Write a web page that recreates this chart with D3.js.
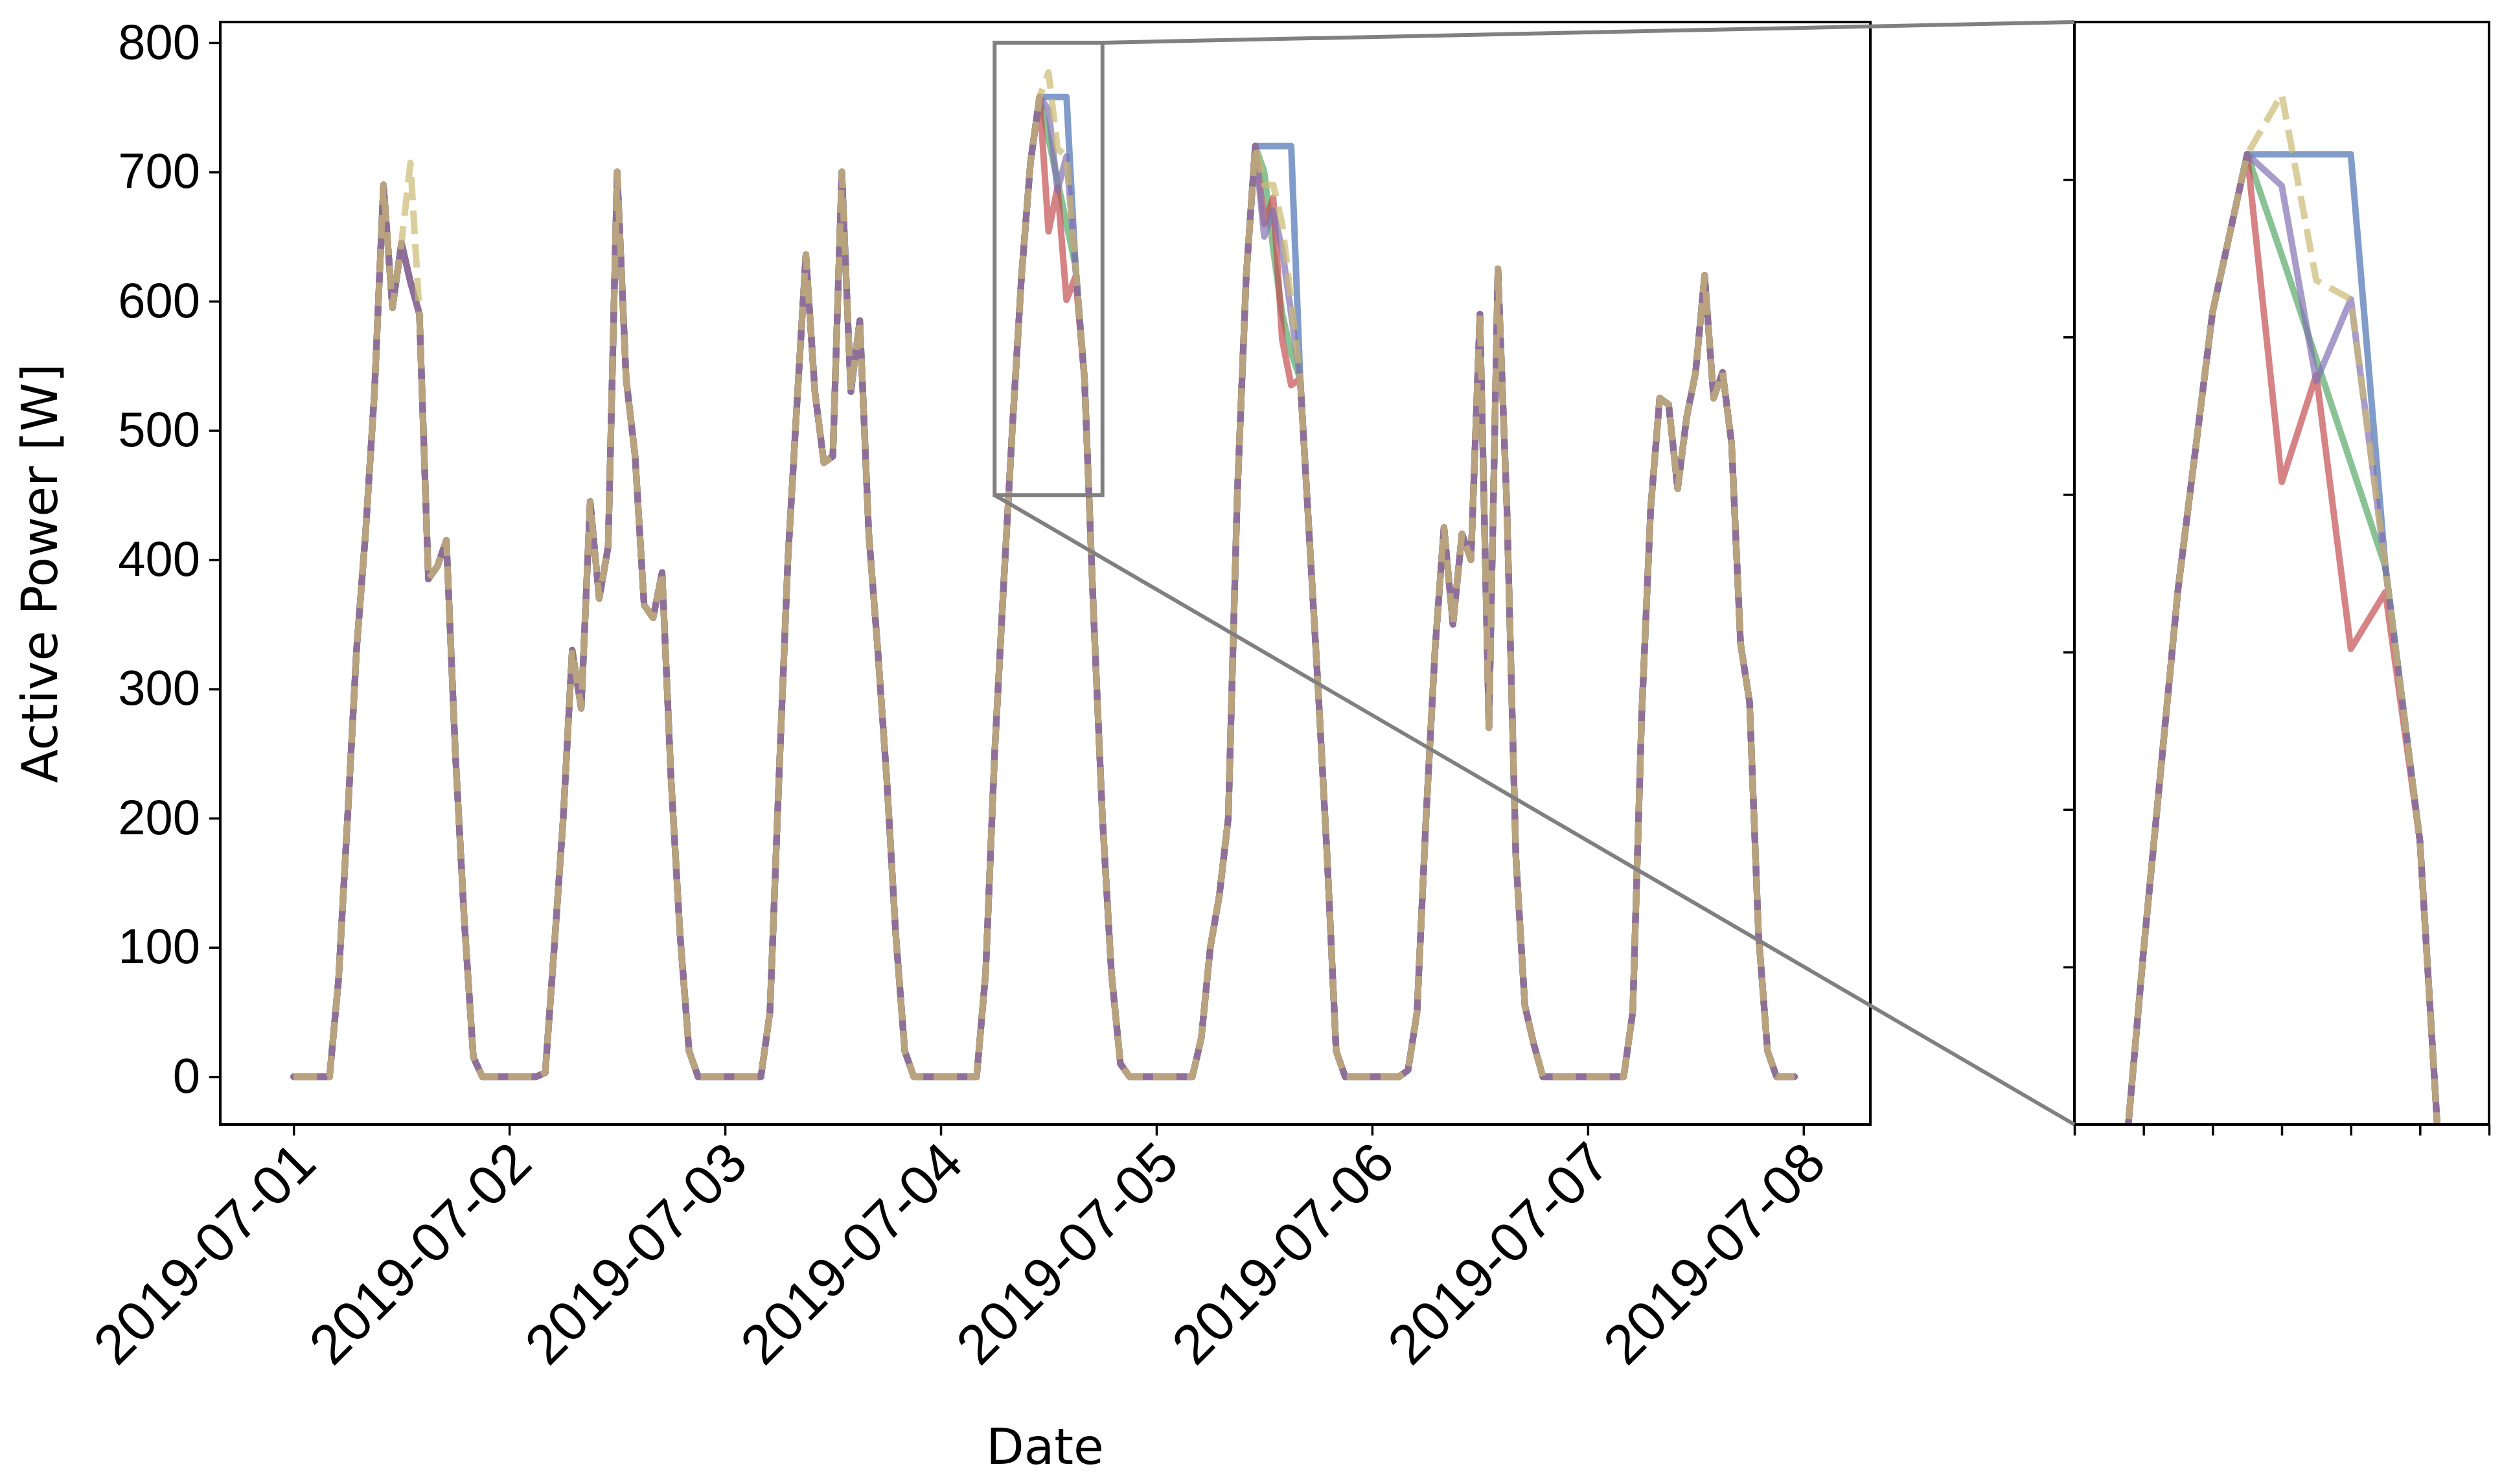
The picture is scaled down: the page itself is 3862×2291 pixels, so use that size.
<!DOCTYPE html>
<html><head><meta charset="utf-8">
<script src="https://cdn.jsdelivr.net/npm/d3@7"></script>
<style>body{margin:0;background:#fff}svg{font-family:"DejaVu Sans",sans-serif}</style>
</head><body><svg id="c" width="3862" height="2291"></svg>
<script>
// hourly values, one array per day (common to all series)
const day1 = [0,0,0,0,0,75,200,330,420,530,690,595,645,615,590,385,395,415,250,120,15,0,0,0];
const day2 = [0,0,0,0,3,100,200,330,285,445,370,410,700,540,480,365,355,390,230,110,20,0,0,0];
const day3 = [0,0,0,0,0,50,230,400,520,636,530,475,480,700,530,585,420,330,230,110,20,0,0,0];
const day4 = [0,0,0,0,0,80,250,380,505,620,708,758,726,693,660,627,540,360,200,80,10,0,0,0];
const day5 = [0,0,0,0,0,30,100,140,200,450,620,720,700,640,590,560,540,420,300,170,20,0,0,0];
const day6 = [0,0,0,0,5,50,200,330,425,350,420,400,590,270,625,440,170,55,25,0,0,0,0,0];
const day7 = [0,0,0,0,0,50,280,440,525,520,455,510,545,620,525,545,490,335,290,110,20,0,0,0];
const seriesNames = ["blue","green","red","purple","yellow"];
const seriesColors = ["#4C72B0","#55A868","#C44E52","#8172B2","#CCB974"];
// deviations: [hour index, value]
const blueDiff = [[84,758],[85,758],[86,758],[107,720],[108,720],[109,720],[110,720],[111,720]];
const greenDiff = [];
const redDiff = [[84,654],[85,688],[86,601],[87,619],[108,660],[109,680],[110,570],[111,535]];
const purpleDiff = [[84,748],[85,686],[86,712],[108,650],[109,670],[110,640],[111,590]];
const yellowDiff = [[13,707],[84,777],[85,718],[86,712],[108,690],[109,690],[110,660],[111,600]];
const yTicks = [0,100,200,300,400,500,600,700,800];
const zoomYTicks = [500,550,600,650,700,750];

const base = [].concat(day1,day2,day3,day4,day5,day6,day7);
const diffs = [blueDiff,greenDiff,redDiff,purpleDiff,yellowDiff];
const t0 = Date.UTC(2019,6,1);
const H = 3600e3;
const series = diffs.map(df => { const v = base.slice(); df.forEach(([i,y]) => v[i]=y); return v.map((y,i)=>({t:new Date(t0+i*H), y})); });

const svg = d3.select("#c");
const M = {l:340, r:2887, t:34, b:1736};
const Z = {l:3202, r:3842};
const x = d3.scaleUtc().domain([new Date(t0-0.34*24*H), new Date(t0+7.31*24*H)]).range([M.l,M.r]);
const y = d3.scaleLinear().domain([-37,816]).range([M.b,M.t]);
const zx = d3.scaleUtc().domain([new Date(t0+78*H), new Date(t0+90*H)]).range([Z.l,Z.r]);
const zy = d3.scaleLinear().domain([450,800]).range([M.b,M.t]);

svg.append("clipPath").attr("id","cm").append("rect").attr("x",M.l).attr("y",M.t).attr("width",M.r-M.l).attr("height",M.b-M.t);
svg.append("clipPath").attr("id","cz").append("rect").attr("x",Z.l).attr("y",M.t).attr("width",Z.r-Z.l).attr("height",M.b-M.t);

function drawLines(g, xs, ys){
  series.forEach((s,k)=>{
    const line = d3.line().x(d=>xs(d.t)).y(d=>ys(d.y));
    const p = g.append("path").datum(s).attr("d",line).attr("fill","none")
      .attr("stroke",seriesColors[k]).attr("stroke-opacity",0.7).attr("stroke-width",10)
      .attr("stroke-linejoin","round").attr("stroke-linecap", k===4?"butt":"round");
    if(k===4) p.attr("stroke-dasharray","36,16");
  });
}
drawLines(svg.append("g").attr("clip-path","url(#cm)"), x, y);
drawLines(svg.append("g").attr("clip-path","url(#cz)"), zx, zy);

const fs = 76;
// main axes
const gy = svg.append("g").attr("transform",`translate(${M.l},0)`).call(d3.axisLeft(y).tickValues(yTicks).tickSize(17).tickPadding(14));
gy.selectAll("text").attr("font-size",fs).attr("fill","#000");
const xt = d3.range(8).map(d=>new Date(t0+d*24*H));
const gx = svg.append("g").attr("transform",`translate(0,${M.b})`).call(d3.axisBottom(x).tickValues(xt).tickSize(17).tickFormat(d3.utcFormat("%Y-%m-%d")));
gx.selectAll("text").attr("font-size",86).attr("fill","#000").attr("text-anchor","end")
  .attr("dy",0).attr("transform","translate(24,50) rotate(-45)");
[gy,gx].forEach(g=>{g.selectAll("line").attr("stroke","#000").attr("stroke-width",3.5); g.select(".domain").remove();});
svg.append("rect").attr("x",M.l).attr("y",M.t).attr("width",M.r-M.l).attr("height",M.b-M.t).attr("fill","none").attr("stroke","#000").attr("stroke-width",4);
svg.append("text").attr("x",1613).attr("y",2260).attr("text-anchor","middle").attr("font-size",fs).text("Date");
svg.append("text").attr("transform",`translate(88,${(M.t+M.b)/2}) rotate(-90)`).attr("text-anchor","middle").attr("font-size",fs).text("Active Power [W]");

// zoom axes
const zgy = svg.append("g").attr("transform",`translate(${Z.l},0)`).call(d3.axisLeft(zy).tickValues(zoomYTicks).tickSize(17).tickFormat(""));
const zxt = d3.range(7).map(i=>new Date(t0+(78+2*i)*H));
const zgx = svg.append("g").attr("transform",`translate(0,${M.b})`).call(d3.axisBottom(zx).tickValues(zxt).tickSize(17).tickFormat(""));
[zgy,zgx].forEach(g=>{g.selectAll("line").attr("stroke","#000").attr("stroke-width",3.5); g.select(".domain").remove();});
svg.append("rect").attr("x",Z.l).attr("y",M.t).attr("width",Z.r-Z.l).attr("height",M.b-M.t).attr("fill","none").attr("stroke","#000").attr("stroke-width",4);

// inset indicator
const rx0 = x(zx.domain()[0]), rx1 = x(zx.domain()[1]), ry0 = y(800), ry1 = y(450);
svg.append("rect").attr("x",rx0).attr("y",ry0).attr("width",rx1-rx0).attr("height",ry1-ry0).attr("fill","none").attr("stroke","#808080").attr("stroke-width",6);
svg.append("line").attr("x1",rx1).attr("y1",ry0).attr("x2",Z.l).attr("y2",M.t).attr("stroke","#808080").attr("stroke-width",6);
svg.append("line").attr("x1",rx0).attr("y1",ry1).attr("x2",Z.l).attr("y2",M.b).attr("stroke","#808080").attr("stroke-width",6);
</script></body></html>
